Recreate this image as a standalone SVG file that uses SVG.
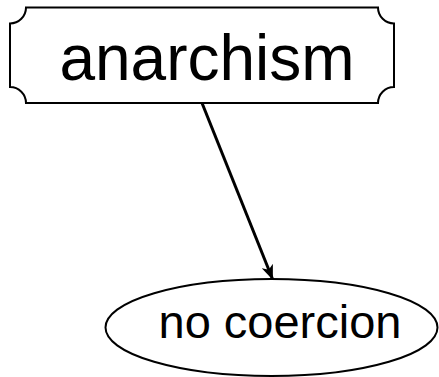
<svg xmlns="http://www.w3.org/2000/svg" width="439" height="377" viewBox="0 0 439 377">
<style>
.shape{fill:#fff;stroke:#000;stroke-width:2}
.lbl{font-family:"Liberation Sans",Arial,sans-serif;fill:#000;text-anchor:middle}
.edge{stroke:#000;stroke-width:3;fill:none}
</style>
<defs>
<marker id="arr" viewBox="0 0 15 12" refX="14" refY="6" markerWidth="15" markerHeight="12" markerUnits="userSpaceOnUse" orient="auto">
<path d="M0,0 L15,6 L0,12 L4,6 Z" fill="#000"/>
</marker>
</defs>
<rect width="439" height="377" fill="#fff"/>
<g id="node-anarchism">
<path class="shape" d="M26,7.5 L378,7.5 A16,16 0 0 0 394,23.5 L394,87 A16,16 0 0 0 378,103 L26,103 A16,16 0 0 0 10,87 L10,23.5 A16,16 0 0 0 26,7.5 Z"/>
<text class="lbl" x="207" y="80" font-size="64">anarchism</text>
</g>
<g id="node-nocoercion">
<ellipse class="shape" cx="271.5" cy="327.5" rx="166" ry="48.5"/>
<text class="lbl" x="280" y="338" font-size="47">no coercion</text>
</g>
<g id="connectors">
<line class="edge" x1="202" y1="103" x2="272.5" y2="279" marker-end="url(#arr)"/>
</g>
</svg>
